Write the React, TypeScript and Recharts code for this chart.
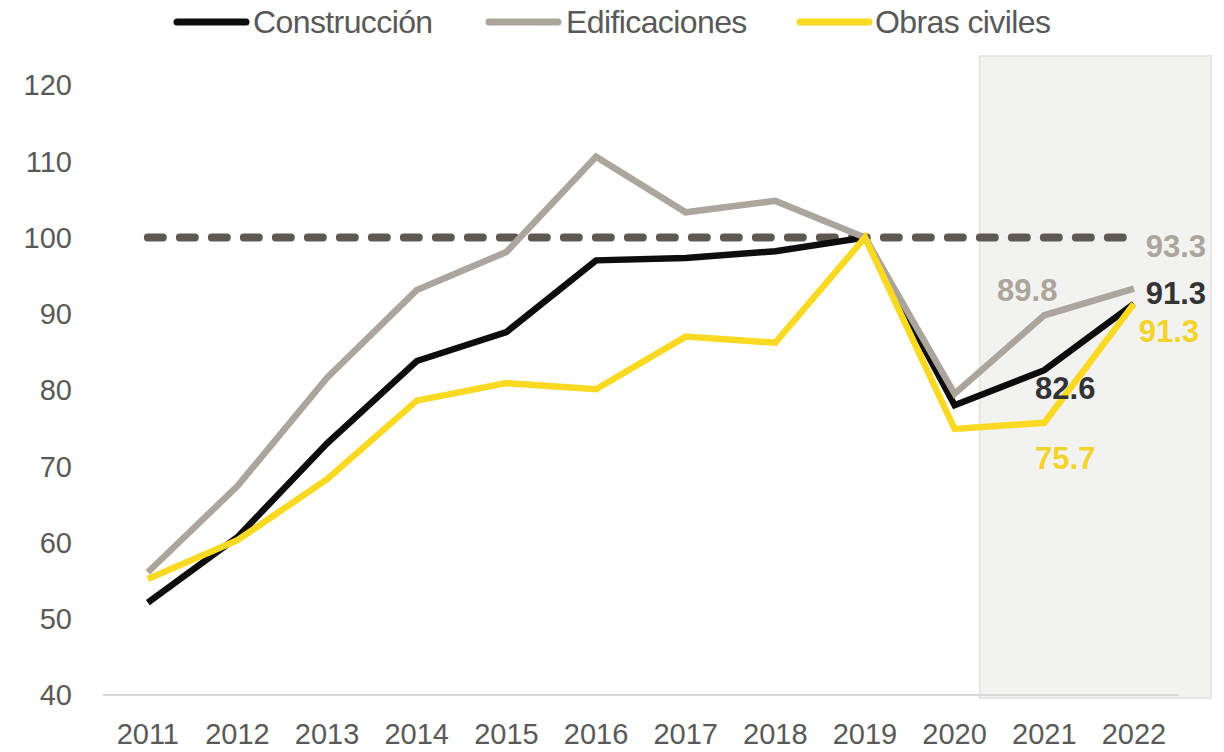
import { LineChart, Line, XAxis, YAxis, ReferenceArea, ReferenceLine } from 'recharts'

const years = [2011, 2012, 2013, 2014, 2015, 2016, 2017, 2018, 2019, 2020, 2021, 2022]
const construccion = [52.1, 60.7, 73.0, 83.8, 87.6, 97.0, 97.3, 98.2, 100, 78.0, 82.6, 91.3]
const edificaciones = [56.1, 67.4, 81.6, 93.1, 98.1, 110.6, 103.3, 104.8, 100, 79.5, 89.8, 93.3]
const obrasCiviles = [55.2, 60.3, 68.3, 78.6, 80.9, 80.1, 87.0, 86.2, 100, 74.9, 75.7, 91.3]
const yTicks = [40, 50, 60, 70, 80, 90, 100, 110, 120]

const series = [
  { key: 'construccion', name: 'Construcción', color: '#0d0d0d', labelColor: '#333333' },
  { key: 'edificaciones', name: 'Edificaciones', color: '#aba59d', labelColor: '#aba59d' },
  { key: 'obras', name: 'Obras civiles', color: '#fad923', labelColor: '#f2d42b' },
]

const data = years.map((y, i) => ({
  year: y,
  construccion: construccion[i],
  edificaciones: edificaciones[i],
  obras: obrasCiviles[i],
}))

// label offsets (dx, dy) for the last two points of each series
const labelOffsets: Record<string, Record<number, [number, number]>> = {
  construccion: { 10: [21, 18], 11: [42, -10] },
  edificaciones: { 10: [-17, -25], 11: [42, -42] },
  obras: { 10: [21, 36], 11: [35, 28] },
}

const font = '"Liberation Sans", Arial, sans-serif'

function makeLabel(key: string, color: string) {
  return (props: any) => {
    const { x, y, index, value } = props
    const off = labelOffsets[key][index]
    if (!off) return null
    return (
      <text
        key={`${key}-${index}`}
        x={x + off[0]}
        y={y + off[1]}
        textAnchor="middle"
        dominantBaseline="central"
        fill={color}
        fontSize={31}
        fontWeight="bold"
        fontFamily={font}
      >
        {value.toFixed(1)}
      </text>
    )
  }
}

function LegendRow() {
  const items = [
    { name: 'Construcción', color: '#0d0d0d', x: 174, tx: 253 },
    { name: 'Edificaciones', color: '#aba59d', x: 486, tx: 566 },
    { name: 'Obras civiles', color: '#fad923', x: 797, tx: 875 },
  ]
  return (
    <g>
      {items.map(it => (
        <g key={it.name}>
          <line x1={it.x + 3} y1={22} x2={it.x + 72} y2={22} stroke={it.color} strokeWidth={7} strokeLinecap="round" />
          <text x={it.tx} y={22} dominantBaseline="central" fontSize={32} fill="#595959" fontFamily={font} letterSpacing={-0.6}>
            {it.name}
          </text>
        </g>
      ))}
    </g>
  )
}

export default function App() {
  return (
    <div style={{ position: 'absolute', left: 0, top: 0, background: '#fff' }}>
      <LineChart width={1224} height={752} data={data} margin={{ top: 85, right: 13, bottom: 0, left: 0 }}>
        <ReferenceArea
          x1={2020.28}
          x2={2022.86}
          y1={39.6}
          y2={123.8}
          fill="#f2f2f0"
          fillOpacity={1}
          stroke="#e6e6e4"
          strokeWidth={2}
          ifOverflow="visible"
        />
        <XAxis
          dataKey="year"
          type="number"
          domain={[2010.5, 2022.86]}
          ticks={years}
          axisLine={false}
          tickLine={false}
          tickMargin={22}
          height={57}
          tick={{ fontSize: 29, fill: '#595959', fontFamily: font }}
          allowDataOverflow
        />
        <YAxis
          domain={[40, 120]}
          ticks={yTicks}
          axisLine={false}
          tickLine={false}
          tickMargin={25}
          width={103}
          tick={{ fontSize: 29, fill: '#595959', fontFamily: font }}
        />
        <ReferenceLine
          segment={[{ x: 2010.5, y: 40 }, { x: 2022.5, y: 40 }]}
          stroke="#d9d9d9"
          strokeWidth={2}
          ifOverflow="visible"
        />
        <ReferenceLine
          segment={[{ x: 2011, y: 100 }, { x: 2022, y: 100 }]}
          stroke="#5e5852"
          strokeWidth={8}
          strokeDasharray="15 17"
          strokeLinecap="round"
        />
        {series.map(s => (
          <Line
            key={s.key}
            type="linear"
            dataKey={s.key}
            name={s.name}
            stroke={s.color}
            strokeWidth={6.5}
            dot={false}
            activeDot={false}
            isAnimationActive={false}
            label={makeLabel(s.key, s.labelColor)}
          />
        ))}
        <LegendRow />
      </LineChart>
    </div>
  )
}
